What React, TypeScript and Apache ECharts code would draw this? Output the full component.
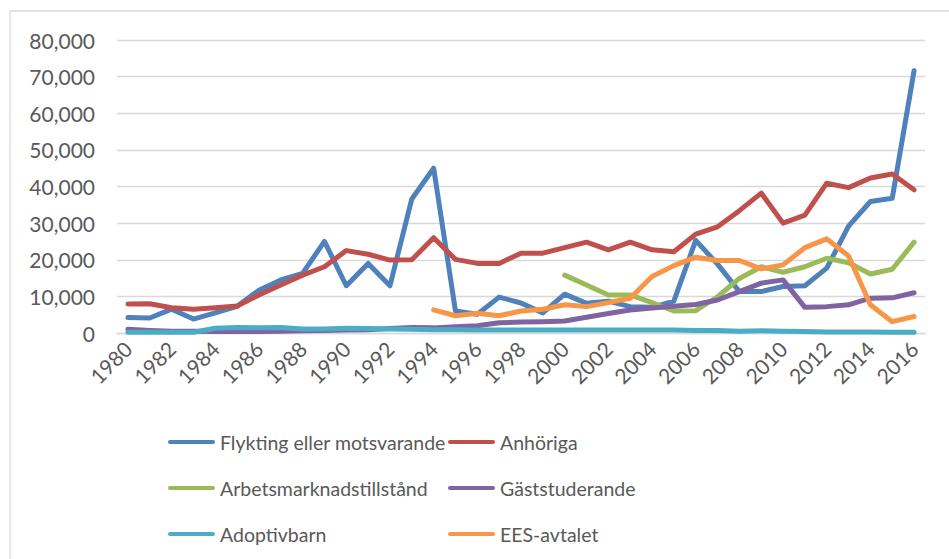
import React, { useEffect, useRef } from "react";
import * as echarts from "echarts";

const years = [
  "1980","1981","1982","1983","1984","1985","1986","1987","1988","1989",
  "1990","1991","1992","1993","1994","1995","1996","1997","1998","1999",
  "2000","2001","2002","2003","2004","2005","2006","2007","2008","2009",
  "2010","2011","2012","2013","2014","2015","2016",
];

const flykting = [
  4200, 4100, 6500, 3800, 5500, 7300, 11700, 14500, 16300, 25000,
  12900, 19000, 12900, 36600, 45000, 6000, 5100, 9800, 8200, 5500,
  10600, 8100, 8700, 7200, 7000, 8700, 25300, 18800, 11300, 11300,
  12700, 12900, 17700, 29200, 35900, 36800, 71600,
];

const anhoriga = [
  7900, 8000, 6900, 6500, 6900, 7400, 10400, 13100, 15800, 18100,
  22500, 21500, 19900, 20000, 26000, 20100, 19000, 19000, 21800, 21800,
  23300, 24800, 22700, 24800, 22700, 22200, 27000, 29000, 33400, 38200,
  30000, 32200, 40900, 39700, 42300, 43400, 39100,
];

const arbetsmarknad = [
  null, null, null, null, null, null, null, null, null, null,
  null, null, null, null, null, null, null, null, null, null,
  15800, 13100, 10400, 10400, 8300, 6000, 6100, 9900, 14900, 18100,
  16600, 18100, 20400, 19200, 16100, 17400, 24800,
];

const gaststuderande = [
  1000, 700, 500, 500, 400, 400, 400, 500, 600, 700,
  800, 900, 1200, 1500, 1400, 1700, 2000, 2800, 3000, 3100,
  3300, 4300, 5300, 6300, 6800, 7300, 7800, 9000, 11300, 13600,
  14500, 7000, 7200, 7700, 9500, 9600, 11000,
];

const adoptivbarn = [
  200, 200, 200, 200, 1300, 1500, 1400, 1500, 1100, 1100,
  1300, 1200, 1100, 1000, 900, 900, 800, 800, 800, 800,
  800, 800, 800, 800, 800, 800, 700, 700, 500, 600,
  500, 400, 300, 300, 300, 200, 200,
];

const ees = [
  null, null, null, null, null, null, null, null, null, null,
  null, null, null, null, 6300, 4700, 5400, 4700, 6000, 6500,
  7700, 7200, 8300, 9500, 15400, 18400, 20700, 19800, 19800, 17500,
  18600, 23300, 25700, 21000, 7700, 3100, 4500,
];

const seriesNames = [
  "Flykting eller motsvarande",
  "Anhöriga",
  "Arbetsmarknadstillstånd",
  "Gäststuderande",
  "Adoptivbarn",
  "EES-avtalet",
];
const seriesData = [flykting, anhoriga, arbetsmarknad, gaststuderande, adoptivbarn, ees];
const colors = ["#4F81BD", "#C0504D", "#9BBB59", "#8064A2", "#4BACC6", "#F79646"];

const yTicks = { min: 0, max: 80000, interval: 10000 };

const FONT = "Lato, 'Open Sans', sans-serif";
const TEXT = "#595959";

export default function App() {
  const ref = useRef<HTMLDivElement>(null);
  useEffect(() => {
    if (!ref.current) return;
    const chart = echarts.init(ref.current, null, { renderer: "svg" });
    const legendCommon = {
      orient: "vertical",
      itemWidth: 47,
      itemHeight: 14,
      itemGap: 26,
      textStyle: { color: TEXT, fontSize: 19.5, fontFamily: FONT },
      icon: "path://M2,0 L45,0 A2,2 0 0 1 45,4 L2,4 A2,2 0 0 1 2,0 Z",
      padding: 0,
    };
    chart.setOption({
      animation: false,
      color: colors,
      textStyle: { fontFamily: FONT },
      grid: { left: 117, right: 24, top: 40, bottom: 226, containLabel: false },
      graphic: [
        { type: "line", shape: { x1: 10, y1: 11, x2: 949, y2: 11 }, style: { stroke: "#d9d9d9", lineWidth: 1.3 } },
        { type: "line", shape: { x1: 10, y1: 11, x2: 10, y2: 559 }, style: { stroke: "#d9d9d9", lineWidth: 1.3 } },
      ],
      legend: [
        {
          ...legendCommon,
          left: 168,
          top: 432,
          data: [seriesNames[0], seriesNames[2], seriesNames[4]],
        },
        {
          ...legendCommon,
          left: 448,
          top: 432,
          data: [seriesNames[1], seriesNames[3], seriesNames[5]],
        },
      ],
      xAxis: {
        type: "category",
        data: years,
        boundaryGap: true,
        axisTick: { show: false },
        axisLine: { show: true, lineStyle: { color: "#d9d9d9", width: 1.3 } },
        axisLabel: {
          interval: 1,
          rotate: 45,
          color: TEXT,
          fontSize: 21,
          fontFamily: FONT,
          margin: 12,
        },
      },
      yAxis: {
        type: "value",
        min: yTicks.min,
        max: yTicks.max,
        interval: yTicks.interval,
        axisLine: { show: false },
        axisTick: { show: false },
        splitLine: { lineStyle: { color: "#d9d9d9", width: 1.3 } },
        axisLabel: {
          color: TEXT,
          fontSize: 21,
          fontFamily: FONT,
          margin: 22,
          formatter: (v: number) => v.toLocaleString("en-US"),
        },
      },
      series: seriesNames.map((name, i) => ({
        name,
        type: "line",
        data: seriesData[i],
        symbol: "none",
        connectNulls: false,
        lineStyle: { width: 5, color: colors[i], cap: "round", join: "round" },
        itemStyle: { color: colors[i] },
      })),
    });
    return () => chart.dispose();
  }, []);
  return (
    <div
      ref={ref}
      style={{ position: "fixed", left: 0, top: 0, width: 949, height: 559, background: "#fff" }}
    />
  );
}
